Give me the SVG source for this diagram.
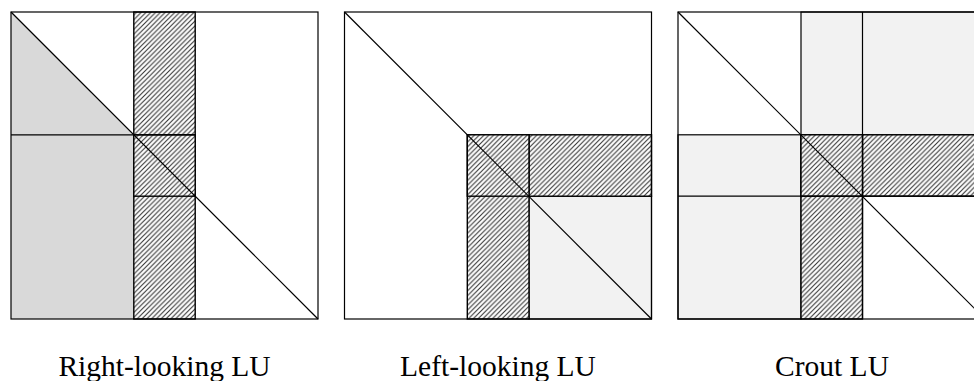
<svg xmlns="http://www.w3.org/2000/svg" width="974" height="381" viewBox="0 0 974 381">
<defs>
<pattern id="hatch" patternUnits="userSpaceOnUse" width="4.8" height="4.8">
<rect width="4.8" height="4.8" fill="#fff"/>
<path d="M-1.2,1.2 L1.2,-1.2 M0,4.8 L4.8,0 M3.6,6 L6,3.6" stroke="#333" stroke-width="1.1"/>
</pattern>
</defs>
<style>
.ln{stroke:#000;stroke-width:1.2;fill:none}
.hb{fill:url(#hatch);stroke:#000;stroke-width:1.4}
.lbl{font-family:"Liberation Serif","Times New Roman",serif;font-size:29.5px;fill:#000;text-anchor:middle}
</style>
<rect width="974" height="381" fill="#fff"/>
<g id="right-looking">
<rect x="11" y="12" width="307" height="307" fill="#fff"/>
<path d="M11,12 L133.8,134.8 L133.8,319 L11,319 Z" fill="#d9d9d9"/>
<rect class="hb" x="133.8" y="12" width="61.4" height="307"/>
<rect class="hb" x="133.8" y="134.8" width="61.4" height="61.4" stroke-width="1.8"/>
<line class="ln" x1="11" y1="134.8" x2="195.2" y2="134.8"/>
<line class="ln" x1="11" y1="12" x2="318" y2="319"/>
<rect class="ln" x="11" y="12" width="307" height="307"/>
<text class="lbl" x="164.5" y="376">Right-looking LU</text>
</g>
<g id="left-looking">
<rect x="344.5" y="12" width="307" height="307" fill="#fff"/>
<rect x="529" y="196.2" width="122.5" height="122.8" fill="#f2f2f2" stroke="#000" stroke-width="1.2"/>
<rect class="hb" x="467.3" y="134.8" width="61.7" height="184.2"/>
<rect class="hb" x="529" y="134.8" width="122.5" height="61.4"/>
<rect class="hb" x="467.3" y="134.8" width="61.7" height="61.4"/>
<line class="ln" x1="344.5" y1="12" x2="651.5" y2="319"/>
<rect class="ln" x="344.5" y="12" width="307" height="307"/>
<text class="lbl" x="498" y="376">Left-looking LU</text>
</g>
<g id="crout">
<rect x="678" y="12" width="307" height="307" fill="#fff"/>
<rect x="801" y="12" width="184" height="122.8" fill="#f2f2f2" stroke="#000" stroke-width="1.2"/>
<rect x="678" y="134.8" width="123" height="184.2" fill="#f2f2f2" stroke="#000" stroke-width="1.2"/>
<rect class="hb" x="801" y="134.8" width="61.5" height="184.2"/>
<rect class="hb" x="862.5" y="134.8" width="122.5" height="61.4"/>
<rect class="hb" x="801" y="134.8" width="61.5" height="61.4"/>
<line class="ln" x1="862.5" y1="12" x2="862.5" y2="319"/>
<line class="ln" x1="678" y1="196.2" x2="985" y2="196.2"/>
<line class="ln" x1="678" y1="12" x2="985" y2="319"/>
<rect class="ln" x="678" y="12" width="307" height="307"/>
<text class="lbl" x="832" y="376">Crout LU</text>
</g>
</svg>
